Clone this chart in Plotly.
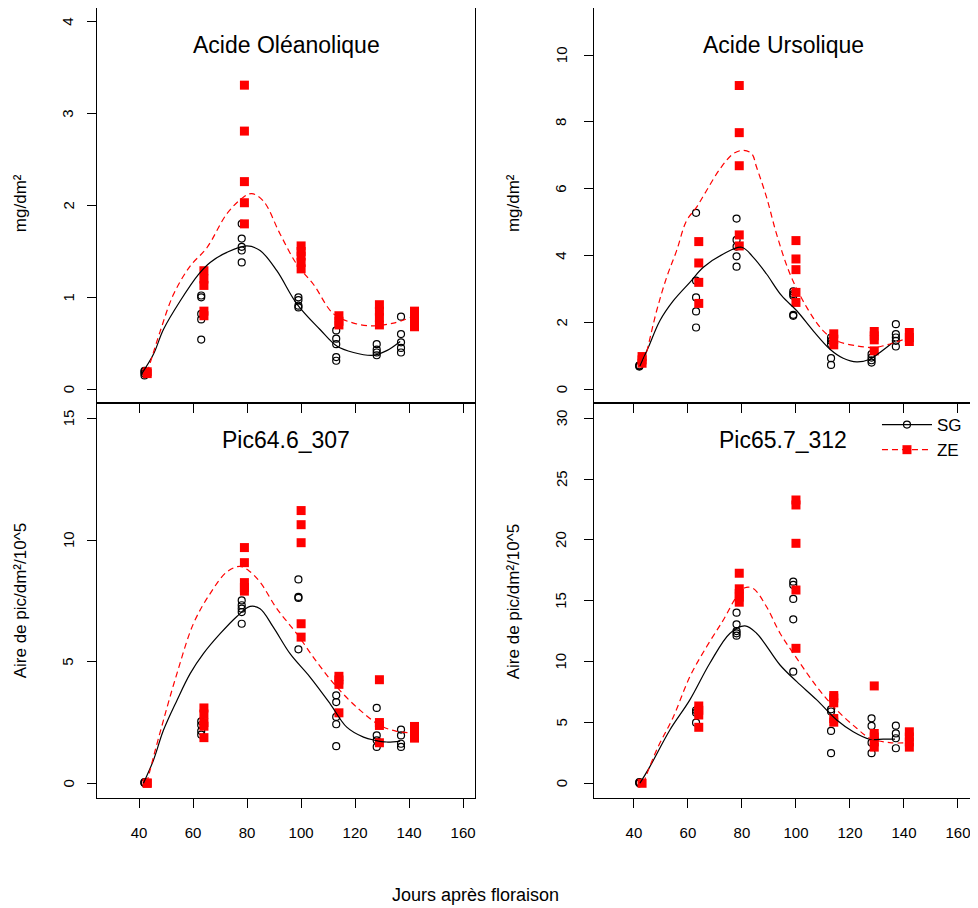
#### Load Libraries ####
import plotly.graph_objects as go
from plotly.subplots import make_subplots

#### Data ####
# sampling days (jours apres floraison)
sg_days = [42, 63, 78, 99, 113, 128, 137]
ze_days = [43, 64, 79, 100, 114, 129, 142]

# Acide Oleanolique (mg/dm2), one list per sampling day
ole_sg = [[0.15, 0.17, 0.19, 0.20], [0.54, 0.76, 0.82, 1.00, 1.02], [1.38, 1.51, 1.55, 1.64, 1.80],
          [0.89, 0.91, 0.97, 1.00], [0.31, 0.35, 0.49, 0.55, 0.64], [0.37, 0.40, 0.43, 0.49],
          [0.40, 0.45, 0.51, 0.60, 0.79]]
ole_ze = [[0.17, 0.19], [0.80, 0.85, 1.13, 1.20, 1.29], [1.80, 2.03, 2.26, 2.81, 3.31],
          [1.31, 1.38, 1.45, 1.50, 1.56], [0.70, 0.74, 0.80], [0.70, 0.78, 0.85, 0.92],
          [0.68, 0.76, 0.85]]
ole_sg_fit_x = [41, 45.3, 49, 55.2, 62, 66.3, 72.5, 79.9, 84.8, 91, 98.4, 107, 113.2, 119.4, 126.8, 131.7, 136.7]
ole_sg_fit_y = [0.17, 0.38, 0.65, 0.96, 1.25, 1.38, 1.49, 1.56, 1.51, 1.29, 0.93, 0.65, 0.47, 0.40, 0.37, 0.42, 0.52]
ole_ze_fit_x = [43, 47.8, 52.7, 58.9, 65.1, 72.5, 78.6, 81.7, 86, 92.2, 98.4, 104.6, 112, 119.4, 126.8, 134.2, 140.4]
ole_ze_fit_y = [0.18, 0.63, 1.03, 1.34, 1.54, 1.91, 2.09, 2.13, 2.05, 1.69, 1.36, 1.14, 0.82, 0.72, 0.69, 0.72, 0.78]

# Acide Ursolique (mg/dm2)
urs_sg = [[0.68, 0.70, 0.72], [1.85, 2.33, 2.75, 3.25, 5.28], [3.67, 3.98, 4.27, 4.47, 5.11],
          [2.20, 2.23, 2.80, 2.85, 2.93], [0.73, 0.93, 1.35, 1.45, 1.55], [0.80, 0.87, 0.95, 1.05],
          [1.28, 1.45, 1.55, 1.65, 1.95]]
urs_ze = [[0.78, 0.88, 0.98], [2.57, 3.20, 3.78, 4.42], [4.29, 4.62, 6.69, 7.68, 9.09],
          [2.60, 2.90, 3.58, 3.90, 4.45], [1.33, 1.50, 1.66], [1.15, 1.48, 1.60, 1.73],
          [1.43, 1.55, 1.70]]
urs_sg_fit_x = [42.2, 45.3, 49.6, 54.6, 60.7, 65.7, 73.1, 79.9, 84.2, 89.1, 94.7, 100.3, 106.4, 112.6, 117.5, 122.5, 127.4, 131.1, 136.7]
urs_sg_fit_y = [0.70, 1.25, 2.05, 2.65, 3.20, 3.65, 4.05, 4.25, 3.95, 3.45, 2.80, 2.35, 1.75, 1.20, 0.93, 0.82, 0.90, 1.10, 1.45]
urs_ze_fit_x = [43.5, 44.1, 48.4, 52.1, 55.8, 59.5, 63.2, 66.9, 71.9, 76.8, 80.5, 83.6, 85.4, 89.1, 92.8, 97.8, 104, 110.1, 115.1, 122.5, 128.6, 132.3, 142.2]
urs_ze_fit_y = [0.85, 0.95, 2.35, 3.35, 4.15, 5.05, 5.45, 5.95, 6.60, 7.05, 7.15, 7.05, 6.65, 5.75, 4.65, 3.45, 2.45, 1.75, 1.45, 1.30, 1.25, 1.30, 1.55]

# Pic64.6_307 (aire de pic/dm2/10^5)
p64_sg = [[0.02, 0.03, 0.05], [2.00, 2.15, 2.40, 2.55], [6.56, 7.04, 7.18, 7.32, 7.52],
          [5.51, 7.62, 7.66, 8.38], [1.53, 2.43, 2.73, 3.34, 3.62], [1.50, 1.77, 1.97, 3.10],
          [1.50, 1.63, 1.97, 2.21]]
p64_ze = [[0.00, 0.02], [1.88, 2.35, 2.50, 2.85, 3.10], [7.90, 8.05, 8.25, 9.07, 9.69],
          [6.01, 6.56, 9.89, 10.63, 11.21], [2.90, 4.07, 4.25, 4.40], [1.67, 2.38, 2.50, 4.26],
          [1.86, 2.10, 2.34]]
p64_sg_fit_x = [41.6, 45.3, 49, 54, 58.9, 63.8, 70, 76.2, 81.1, 84.8, 89.7, 95.9, 103.3, 110.7, 116.9, 123.1, 127.4, 131.7, 136.7]
p64_sg_fit_y = [0.01, 0.95, 2.18, 3.41, 4.51, 5.33, 6.15, 6.86, 7.27, 7.18, 6.42, 5.33, 4.37, 3.28, 2.31, 1.90, 1.77, 1.70, 1.74]
p64_ze_fit_x = [42.8, 45.3, 49, 54, 60.1, 66.3, 72.5, 77.4, 80.5, 84.8, 91, 98.4, 105.8, 113.2, 121.9, 129.3, 135.4, 141.6]
p64_ze_fit_y = [0.00, 1.08, 2.59, 4.51, 6.56, 7.80, 8.69, 8.92, 8.75, 8.27, 7.18, 6.15, 4.99, 3.96, 3.00, 2.38, 2.14, 2.07]

# Pic65.7_312 (aire de pic/dm2/10^5)
p65_sg = [[0.00, 0.05, 0.10], [4.98, 5.80, 6.00], [12.13, 12.32, 12.51, 13.06, 14.02],
          [9.17, 13.47, 15.15, 16.30, 16.57], [2.47, 4.30, 5.90, 6.08], [2.47, 3.34, 4.71, 5.34],
          [2.88, 3.70, 4.10, 4.73]]
p65_ze = [[0.00], [4.60, 5.61, 6.00, 6.35], [14.88, 15.30, 15.60, 15.98, 17.26],
          [11.09, 15.88, 19.72, 22.87, 23.28], [5.02, 5.32, 6.61, 7.00, 7.21],
          [2.97, 3.40, 3.80, 4.09, 8.00], [2.97, 3.40, 3.80, 4.23]]
p65_sg_fit_x = [42.2, 45.9, 53.3, 60.7, 68.1, 75.6, 81.1, 85.4, 94.1, 100.3, 107.7, 115.1, 121.2, 127.4, 132.3, 136.7]
p65_sg_fit_y = [0.00, 1.37, 4.38, 6.85, 9.86, 12.33, 12.93, 12.33, 9.72, 8.35, 6.85, 5.20, 4.24, 3.62, 3.62, 3.62]
p65_ze_fit_x = [43.5, 48.4, 54.6, 60.7, 66.9, 73.1, 78, 81.1, 84.2, 89.1, 94.1, 100.3, 107.7, 115.1, 122.5, 127.4, 134.8, 142.2]
p65_ze_fit_y = [0.00, 2.74, 5.47, 8.76, 11.22, 13.42, 15.33, 16.07, 16.00, 14.51, 12.33, 10.27, 7.94, 6.02, 4.52, 3.70, 3.34, 3.34]

x_ticks = [40, 60, 80, 100, 120, 140, 160]

FONT = "Liberation Sans, Arial, sans-serif"
RED = "#ff0000"


def expand(days, groups):
    """flatten the per-day lists into x / y lists"""
    xs, ys = [], []
    for d, vals in zip(days, groups):
        for v in vals:
            xs.append(d)
            ys.append(v)
    return xs, ys


panels = [
    (1, 1, ole_sg, ole_ze, ole_sg_fit_x, ole_sg_fit_y, ole_ze_fit_x, ole_ze_fit_y,
     "Acide Oléanolique", "mg/dm²", [-0.15, 4.15], [0, 1, 2, 3, 4]),
    (1, 2, urs_sg, urs_ze, urs_sg_fit_x, urs_sg_fit_y, urs_ze_fit_x, urs_ze_fit_y,
     "Acide Ursolique", "mg/dm²", [-0.41, 11.41], [0, 2, 4, 6, 8, 10]),
    (2, 1, p64_sg, p64_ze, p64_sg_fit_x, p64_sg_fit_y, p64_ze_fit_x, p64_ze_fit_y,
     "Pic64.6_307", "Aire de pic/dm²/10^5", [-0.60, 15.63], [0, 5, 10, 15]),
    (2, 2, p65_sg, p65_ze, p65_sg_fit_x, p65_sg_fit_y, p65_ze_fit_x, p65_ze_fit_y,
     "Pic65.7_312", "Aire de pic/dm²/10^5", [-1.21, 31.25], [0, 5, 10, 15, 20, 25, 30]),
]

#### Build Figure ####
fig = make_subplots(rows=2, cols=2, horizontal_spacing=0.136, vertical_spacing=0.0)

# paper x of the rotated y tick labels / y titles, per column
ylab_x = {1: -0.0331, 2: 0.5303}
ytitle_x = {1: -0.088, 2: 0.4754}
title_x = {1: 0.216, 2: 0.784}
title_y = {1: 0.953, 2: 0.453}
ytitle_y = {1: 0.753, 2: 0.249}

for row, col, sg, ze, sfx, sfy, zfx, zfy, title, ytitle, yrange, yticks in panels:
    sx, sy = expand(sg_days, sg)
    zx, zy = expand(ze_days, ze)
    fig.add_trace(go.Scatter(x=sx, y=sy, mode="markers", showlegend=False,
                             marker=dict(symbol="circle-open", size=7, color="black",
                                         line=dict(width=1.2, color="black"))),
                  row=row, col=col)
    fig.add_trace(go.Scatter(x=zx, y=zy, mode="markers", showlegend=False,
                             marker=dict(symbol="square", size=9, color=RED,
                                         line=dict(width=0))),
                  row=row, col=col)
    fig.add_trace(go.Scatter(x=sfx, y=sfy, mode="lines", showlegend=False,
                             line=dict(color="black", width=1.2, shape="spline")),
                  row=row, col=col)
    fig.add_trace(go.Scatter(x=zfx, y=zfy, mode="lines", showlegend=False,
                             line=dict(color=RED, width=1.2, dash="6px,4px", shape="spline")),
                  row=row, col=col)

    xr = [24.4, 164.4] if col == 1 else [25.2, 165.2]
    fig.update_xaxes(range=xr, tickvals=x_ticks, showticklabels=(row == 2),
                     row=row, col=col)
    fig.update_yaxes(range=yrange, tickvals=yticks, showticklabels=False, row=row, col=col)

    # rotated y tick labels, R style
    yref = "y" if (row, col) == (1, 1) else "y%d" % ((row - 1) * 2 + col)
    for t in yticks:
        fig.add_annotation(x=ylab_x[col], y=t, xref="paper", yref=yref, text=str(t),
                           showarrow=False, textangle=-90, xanchor="center", yanchor="middle",
                           font=dict(family=FONT, size=15, color="black"))

    fig.add_annotation(x=title_x[col], y=title_y[row], xref="paper", yref="paper", text=title,
                       showarrow=False, xanchor="center", yanchor="middle",
                       font=dict(family=FONT, size=23, color="black"))
    fig.add_annotation(x=ytitle_x[col], y=ytitle_y[row], xref="paper", yref="paper", text=ytitle,
                       showarrow=False, xanchor="center", yanchor="middle", textangle=-90,
                       font=dict(family=FONT, size=17, color="black"))

# legend entries only (no data)
fig.add_trace(go.Scatter(x=[None], y=[None], mode="lines+markers", name="SG",
                         line=dict(color="black", width=1.2),
                         marker=dict(symbol="circle-open", size=7, color="black",
                                     line=dict(width=1.2))), row=2, col=2)
fig.add_trace(go.Scatter(x=[None], y=[None], mode="lines+markers", name="ZE",
                         line=dict(color=RED, width=1.2, dash="6px,4px"),
                         marker=dict(symbol="square", size=9, color=RED)), row=2, col=2)

axis_style = dict(showline=True, mirror=True, linecolor="black", linewidth=1,
                  ticks="outside", ticklen=9, tickcolor="black", tickwidth=1,
                  showgrid=False, zeroline=False,
                  tickfont=dict(family=FONT, size=15, color="black"))
fig.update_xaxes(**axis_style, ticklabelstandoff=12)
fig.update_yaxes(**axis_style)

fig.add_annotation(x=0.432, y=-0.1228, xref="paper", yref="paper", text="Jours après floraison",
                   showarrow=False, xanchor="center", yanchor="middle",
                   font=dict(family=FONT, size=18, color="black"))

# the page body adds 8px, so the figure is 8px smaller than the window
fig.update_layout(
    width=970, height=900,
    margin=dict(l=89, r=6, t=0, b=110),
    paper_bgcolor="white", plot_bgcolor="white",
    font=dict(family=FONT, size=15, color="black"),
    legend=dict(x=0.8914, y=0.4949, xanchor="left", yanchor="top",
                bgcolor="rgba(0,0,0,0)", borderwidth=0, itemwidth=50,
                font=dict(family=FONT, size=17, color="black"),
                tracegroupgap=0),
)

fig.write_html("out.html")
